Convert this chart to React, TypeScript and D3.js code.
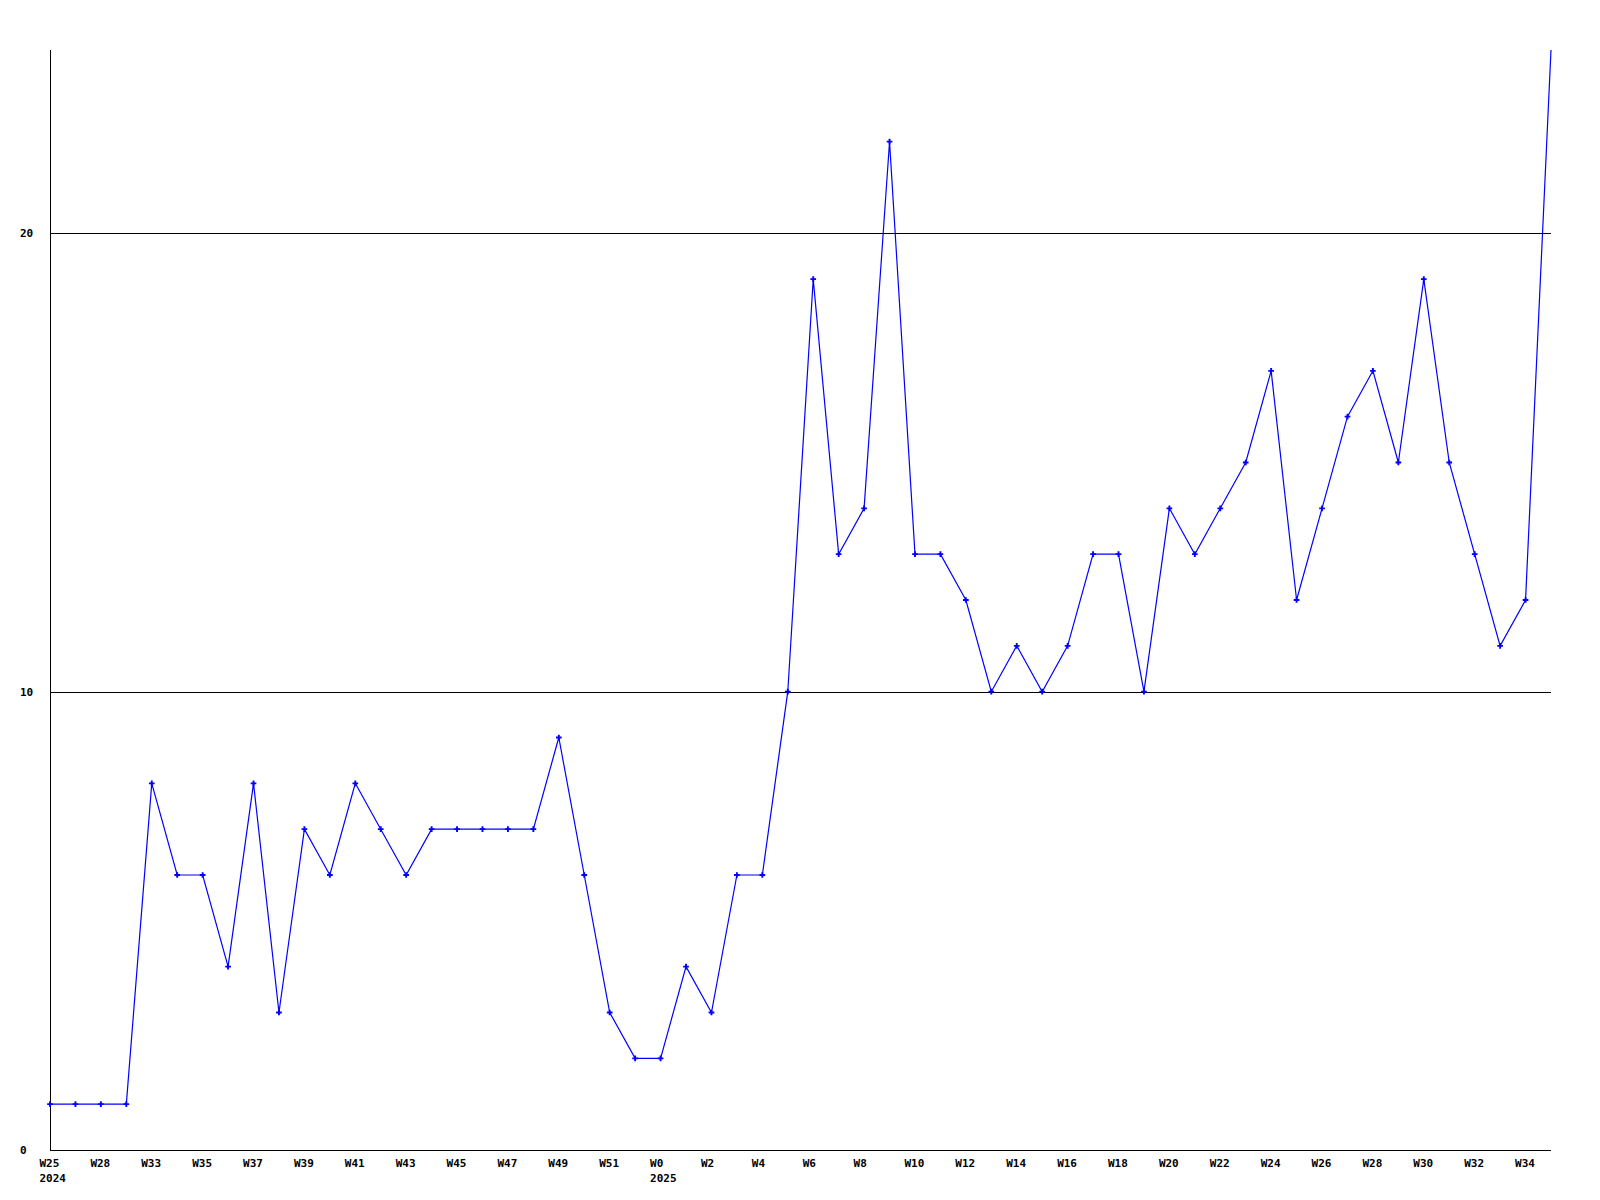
import React from "react";
import * as d3 from "d3";

const weeks: string[] = [
  "W25", "W26", "W28", "W30", "W33", "W34", "W35", "W36", "W37", "W38",
  "W39", "W40", "W41", "W42", "W43", "W44", "W45", "W46", "W47", "W48",
  "W49", "W50", "W51", "W52", "W0", "W1", "W2", "W3", "W4", "W5",
  "W6", "W7", "W8", "W9", "W10", "W11", "W12", "W13", "W14", "W15",
  "W16", "W17", "W18", "W19", "W20", "W21", "W22", "W23", "W24", "W25",
  "W26", "W27", "W28", "W29", "W30", "W31", "W32", "W33", "W34", "W35",
];

const values: number[] = [
  1, 1, 1, 1, 8, 6, 6, 4, 8, 3,
  7, 6, 8, 7, 6, 7, 7, 7, 7, 7,
  9, 6, 3, 2, 2, 4, 3, 6, 6, 10,
  19, 13, 14, 22, 13, 13, 12, 10, 11, 10,
  11, 13, 13, 10, 14, 13, 14, 15, 17, 12,
  14, 16, 17, 15, 19, 15, 13, 11, 12, 24,
];

const yearLabels: { index: number; text: string }[] = [
  { index: 0, text: "2024" },
  { index: 24, text: "2025" },
];

const yTicks: number[] = [0, 10, 20];
const yMax = 24;

export default function App() {
  const width = 1600;
  const height = 1200;
  const left = 50;
  const right = 1551;
  const top = 50;
  const bottom = 1150;

  const x = d3.scaleLinear().domain([0, values.length - 1]).range([left, right]);
  const y = d3.scaleLinear().domain([0, yMax]).range([bottom, top]);

  const line = d3
    .line<number>()
    .x((_, i) => x(i))
    .y((d) => y(d));

  const marker = d3.symbol().type(d3.symbolCross).size(18)() as string;
  const font = "'DejaVu Sans Mono', monospace";

  return (
    <svg
      width={width}
      height={height}
      style={{ position: "absolute", left: 0, top: 0, background: "#fff" }}
      fontFamily={font}
      fontWeight="bold"
      fontSize={11}
    >
      <rect x={0} y={0} width={width} height={height} fill="#fff" />
      {yTicks
        .filter((t) => t > 0)
        .map((t) => (
          <line
            key={"g" + t}
            x1={left}
            x2={right}
            y1={Math.round(y(t)) + 0.5}
            y2={Math.round(y(t)) + 0.5}
            stroke="#000"
            strokeWidth={1}
          />
        ))}
      <line x1={left + 0.5} x2={left + 0.5} y1={top} y2={bottom + 1} stroke="#000" strokeWidth={1} />
      <line x1={left} x2={right} y1={bottom + 0.5} y2={bottom + 0.5} stroke="#000" strokeWidth={1} />
      {yTicks.map((t) => (
        <text key={"t" + t} x={20} y={y(t) + 4} fill="#000">
          {t}
        </text>
      ))}
      {weeks.map((w, i) =>
        i % 2 === 0 ? (
          <text key={"w" + i} x={x(i) - 10.5} y={1167} fill="#000">
            {w}
          </text>
        ) : null
      )}
      {yearLabels.map((yl) => (
        <text key={"y" + yl.index} x={x(yl.index) - 10.5} y={1182} fill="#000">
          {yl.text}
        </text>
      ))}
      <path d={line(values) as string} fill="none" stroke="#0000ff" strokeWidth={1.2} />
      {values.map((v, i) =>
        v < yMax ? (
          <path key={"p" + i} d={marker} transform={`translate(${x(i)},${y(v)})`} fill="#0000ff" />
        ) : null
      )}
    </svg>
  );
}
